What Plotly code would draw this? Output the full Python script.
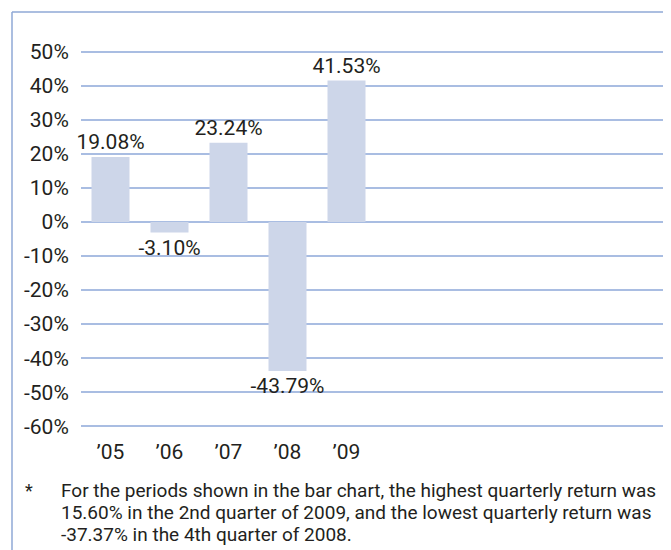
import plotly.graph_objects as go

# ---- data ----
years = ["\u201905", "\u201906", "\u201907", "\u201908", "\u201909"]
returns = [19.08, -3.10, 23.24, -43.79, 41.53]
bar_labels = ["19.08%", "-3.10%", "23.24%", "-43.79%", "41.53%"]
y_ticks = [50, 40, 30, 20, 10, 0, -10, -20, -30, -40, -50, -60]
y_tick_labels = [f"{v}%" for v in y_ticks]
footnote_lines = [
    "For the periods shown in the bar chart, the highest quarterly return was",
    "15.60% in the 2nd quarter of 2009, and the lowest quarterly return was",
    "-37.37% in the 4th quarter of 2008.",
]

FONT = "Roboto, Liberation Sans Narrow, sans-serif"
TXT = "#231f20"
BAR = "#cdd6e9"
GRID = "#a9bde2"
BORDER = "#8fa9d6"

x_pos = list(range(len(years)))

fig = go.Figure()
fig.add_trace(go.Bar(
    x=x_pos, y=returns,
    marker=dict(color=BAR, line=dict(width=0)),
    text=bar_labels, textposition="outside",
    textfont=dict(family=FONT, size=21, color=TXT),
    constraintext="none",
    cliponaxis=False,
    hoverinfo="skip",
))

fig.update_layout(
    width=671, height=550,
    margin=dict(l=73, r=8, t=42, b=130, pad=0),
    paper_bgcolor="white", plot_bgcolor="white",
    showlegend=False,
    bargap=0.356,
    font=dict(family=FONT, color=TXT),
    xaxis=dict(
        range=[-0.5, 9.5], tickvals=x_pos, ticktext=years,
        showgrid=False, zeroline=False, showline=False,
        ticks="outside", ticklen=5, tickcolor="rgba(0,0,0,0)",
        tickfont=dict(family=FONT, size=21, color=TXT),
        fixedrange=True,
    ),
    yaxis=dict(
        range=[-60.5, 50.5], tickvals=y_ticks, ticktext=y_tick_labels,
        showgrid=True, gridcolor=GRID, gridwidth=1.5,
        zeroline=False, showline=False,
        ticks="outside", ticklen=7, tickcolor="rgba(0,0,0,0)",
        tickfont=dict(family=FONT, size=21, color=TXT),
        fixedrange=True,
    ),
)

# frame lines (top and left), pixel-positioned relative to the plot area
fig.add_shape(type="line", xref="paper", yref="paper",
              xsizemode="pixel", xanchor=0, ysizemode="pixel", yanchor=1,
              x0=-69, x1=620, y0=38, y1=38,
              line=dict(color=BORDER, width=1.5))
fig.add_shape(type="line", xref="paper", yref="paper",
              xsizemode="pixel", xanchor=0, ysizemode="pixel", yanchor=1,
              x0=-69, x1=-69, y0=38, y1=-520,
              line=dict(color=BORDER, width=1.5))

# footnote
fig.add_annotation(xref="paper", yref="paper", x=0, y=0,
                   xanchor="left", yanchor="middle",
                   xshift=23 - 81, yshift=-(490 - 428),
                   text="*", showarrow=False,
                   font=dict(family=FONT, size=18, color=TXT))
for i, line in enumerate(footnote_lines):
    fig.add_annotation(xref="paper", yref="paper", x=0, y=0,
                       xanchor="left", yanchor="middle",
                       xshift=59 - 81, yshift=-(490 + 22 * i - 428),
                       text=line, showarrow=False,
                       font=dict(family=FONT, size=19, color=TXT))

fig.write_html("out.html", config={"displayModeBar": False})
